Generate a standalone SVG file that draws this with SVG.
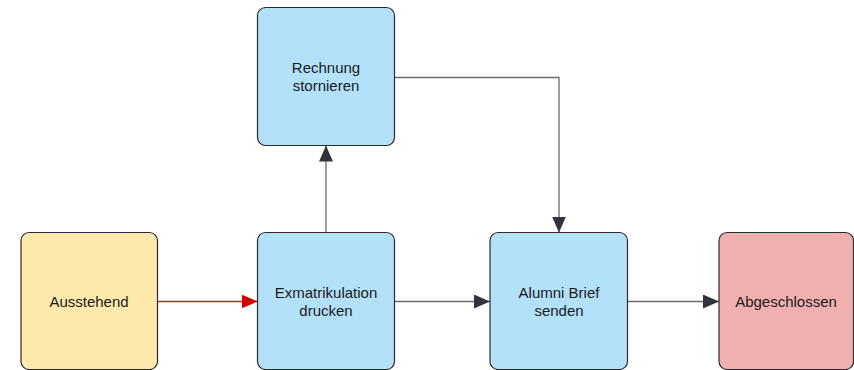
<svg xmlns="http://www.w3.org/2000/svg" width="854" height="370" viewBox="0 0 854 370">
<style>
.n{stroke:#2b2b2b;stroke-width:1.2}
.t{font-family:"Liberation Sans",Arial,sans-serif;font-size:15px;fill:#1a1a1a;text-anchor:middle}
.c{fill:none;stroke:#6b6b70;stroke-width:1.3}
.r{fill:none;stroke:#d42020;stroke-width:1.3}
</style>
<defs>
<marker id="ah" viewBox="0 0 16 14" refX="16" refY="7" markerWidth="16" markerHeight="14" markerUnits="userSpaceOnUse" orient="auto"><path d="M0,0L16,7L0,14z" fill="#33333d"/></marker>
<marker id="ahr" viewBox="0 0 16 14" refX="16" refY="7" markerWidth="16" markerHeight="14" markerUnits="userSpaceOnUse" orient="auto"><path d="M0,0L16,7L0,14z" fill="#d40000"/></marker>
</defs>
<rect width="854" height="370" fill="#fff"/>
<g id="connectors">
<path class="r" d="M157.5,301.5H257.5" marker-end="url(#ahr)"/>
<path class="c" d="M326,232.5V145.5" marker-end="url(#ah)"/>
<path class="c" d="M394.5,77.5H559V232.5" marker-end="url(#ah)"/>
<path class="c" d="M394.5,301.5H490" marker-end="url(#ah)"/>
<path class="c" d="M627.5,301.5H719" marker-end="url(#ah)"/>
</g>
<g id="ausstehend"><rect class="n" x="21" y="232.5" width="136.5" height="137" rx="8" fill="#fee9ad"/><text class="t" x="89" y="306.5">Ausstehend</text></g>
<g id="rechnung"><rect class="n" x="257.5" y="7.5" width="137" height="138" rx="8" fill="#b3e1fa"/><text class="t" x="326" y="73">Rechnung</text><text class="t" x="326" y="91">stornieren</text></g>
<g id="exmatrikulation"><rect class="n" x="257.5" y="232.5" width="137" height="137" rx="8" fill="#b3e1fa"/><text class="t" x="326" y="297.5">Exmatrikulation</text><text class="t" x="326" y="315.5">drucken</text></g>
<g id="alumni"><rect class="n" x="490" y="232.5" width="137.5" height="137" rx="8" fill="#b3e1fa"/><text class="t" x="559" y="297.5">Alumni Brief</text><text class="t" x="559" y="315.5">senden</text></g>
<g id="abgeschlossen"><rect class="n" x="719" y="232.5" width="134.5" height="137" rx="8" fill="#f1b0b0"/><text class="t" x="786" y="306.5">Abgeschlossen</text></g>
</svg>
